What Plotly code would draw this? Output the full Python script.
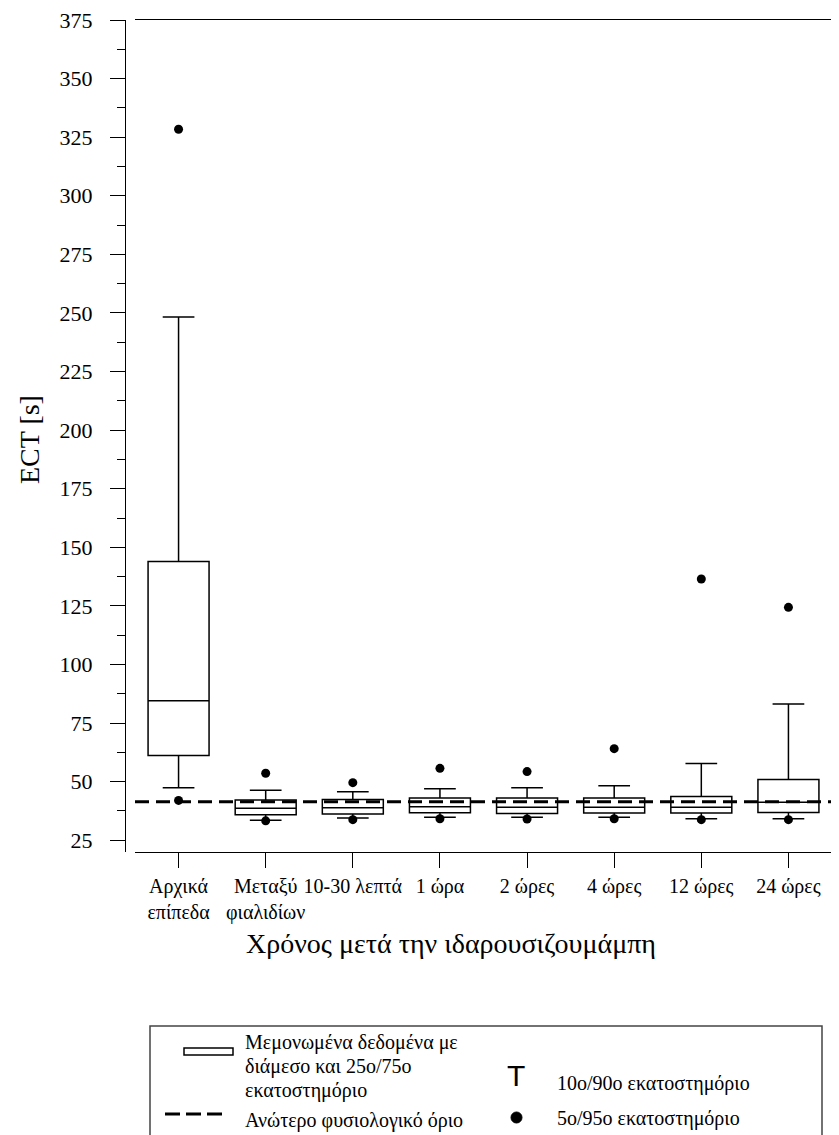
import plotly.graph_objects as go

#### Data ####
categories = ["Αρχικά<br>επίπεδα", "Μεταξύ<br>φιαλιδίων", "10-30 λεπτά", "1 ώρα",
              "2 ώρες", "4 ώρες", "12 ώρες", "24 ώρες"]
p5 = [42.0, 33.3, 33.8, 34.2, 34.1, 34.2, 33.8, 33.8]
p10 = [47.4, 33.6, 34.5, 34.8, 34.8, 34.8, 34.2, 34.2]
q1 = [61.2, 35.9, 36.2, 36.8, 36.4, 36.6, 36.6, 36.9]
median = [84.5, 38.7, 38.9, 39.3, 39.1, 39.1, 39.1, 41.2]
q3 = [144.0, 42.2, 42.4, 43.0, 43.0, 43.0, 43.7, 50.9]
p90 = [248.3, 46.4, 45.7, 47.0, 47.4, 48.3, 57.8, 83.1]
p95 = [328.4, 53.6, 49.6, 55.7, 54.3, 64.1, 136.5, 124.4]
upper_normal = 41.4

y_ticks = list(range(25, 376, 25))
x_pos = list(range(len(categories)))

serif = 'Liberation Serif'

# page geometry in px; the page body has an 8px margin, so the figure
# is shrunk and every page position is shifted by it
OFF = 8
W, H = 839 - OFF, 1135 - OFF
ML, MR, MT, MB = 125 - OFF, 7, 20 - OFF, 291 - OFF
PW = W - ML - MR
PH = H - MT - MB

def px(x):
    return (x - OFF - ML) / PW

def py(y):
    return (H - MB - (y - OFF)) / PH

fig = go.Figure()

# boxes (25/50/75) with whiskers at 10th/90th
fig.add_trace(go.Box(
    x=x_pos, q1=q1, median=median, q3=q3,
    lowerfence=p10, upperfence=p90,
    width=0.7, whiskerwidth=0.52,
    fillcolor='white', line=dict(color='black', width=1.5),
    boxpoints=False, hoverinfo='skip',
))

# upper normal limit
fig.add_trace(go.Scatter(
    x=[-0.5, 7.5], y=[upper_normal, upper_normal], mode='lines',
    line=dict(color='black', width=3, dash='14px,7px'),
    hoverinfo='skip',
))

# 5th / 95th percentiles
fig.add_trace(go.Scatter(
    x=x_pos + x_pos, y=p5 + p95, mode='markers',
    marker=dict(color='black', size=9),
    hoverinfo='skip',
))

fig.update_layout(
    width=W, height=H,
    margin=dict(l=ML, r=MR, t=MT, b=MB, autoexpand=False),
    plot_bgcolor='white', paper_bgcolor='white',
    showlegend=False,
    font=dict(family=serif, color='black'),
    xaxis=dict(
        range=[-0.5, 7.5], domain=[10 / PW, 1],
        tickvals=x_pos, ticktext=categories, tickangle=0,
        ticklabeloverflow='allow',
        ticks='outside', ticklen=15, tickcolor='black', tickwidth=1,
        showline=True, linecolor='black', linewidth=1, mirror=True,
        showgrid=False, zeroline=False,
        tickfont=dict(family=serif, size=20, color='black'),
        ticklabelstandoff=1,
    ),
    yaxis=dict(
        range=[20, 375], anchor='free', position=0,
        tickvals=y_ticks, ticklabeloverflow='allow',
        ticks='outside', ticklen=15, tickcolor='black', tickwidth=1,
        minor=dict(tickvals=[v + 12.5 for v in y_ticks[:-1]], ticks='outside',
                   ticklen=8, tickcolor='black', tickwidth=1),
        showline=True, linecolor='black', linewidth=1,
        showgrid=False, zeroline=False,
        tickfont=dict(family=serif, size=22, color='black'),
        ticklabelstandoff=13,
    ),
)

annotations = []

# axis titles
annotations.append(dict(xref='paper', yref='paper', x=px(29), y=py(440),
                        text='ECT [s]', textangle=-90, showarrow=False,
                        xanchor='center', yanchor='middle',
                        font=dict(family=serif, size=28, color='black')))
annotations.append(dict(xref='paper', yref='paper', x=px(451), y=py(943),
                        text='Χρόνος μετά την ιδαρουσιζουμάμπη', showarrow=False,
                        xanchor='center', yanchor='middle',
                        font=dict(family=serif, size=28, color='black')))

# legend texts
leg_left = [('Μεμονωμένα δεδομένα με', 1042), ('διάμεσο και 25ο/75ο', 1066),
            ('εκατοστημόριο', 1090), ('Ανώτερο φυσιολογικό όριο', 1120)]
for txt, yy in leg_left:
    annotations.append(dict(xref='paper', yref='paper', x=px(243), y=py(yy),
                            text=txt, showarrow=False, xanchor='left', yanchor='middle',
                            font=dict(family=serif, size=20, color='black')))
leg_right = [('10ο/90ο εκατοστημόριο', 1083), ('5ο/95ο εκατοστημόριο', 1118)]
for txt, yy in leg_right:
    annotations.append(dict(xref='paper', yref='paper', x=px(555), y=py(yy),
                            text=txt, showarrow=False, xanchor='left', yanchor='middle',
                            font=dict(family=serif, size=20, color='black')))
annotations.append(dict(xref='paper', yref='paper', x=px(516), y=py(1075),
                        text='T', showarrow=False, xanchor='center', yanchor='middle',
                        font=dict(family='Liberation Sans', size=30, color='black')))
fig.update_layout(annotations=annotations)

# legend frame and symbols
shapes = [
    dict(type='path', xref='paper', yref='paper',
         path='M {},{} L {},{} L {},{} L {},{}'.format(px(150), py(1140), px(150), py(1026),
                                                       px(822), py(1026), px(822), py(1140)),
         line=dict(color='#444', width=1.5)),
    dict(type='rect', xref='paper', yref='paper',
         x0=px(184), x1=px(233), y0=py(1048), y1=py(1055),
         line=dict(color='black', width=1.5), fillcolor='white'),
    dict(type='line', xref='paper', yref='paper',
         x0=px(165), x1=px(225), y0=py(1114), y1=py(1114),
         line=dict(color='black', width=3, dash='15px,6px')),
    dict(type='circle', xref='paper', yref='paper',
         x0=px(511), x1=px(522), y0=py(1112), y1=py(1123),
         line=dict(color='black', width=1), fillcolor='black'),
]
fig.update_layout(shapes=shapes)

fig.write_html("out.html")
